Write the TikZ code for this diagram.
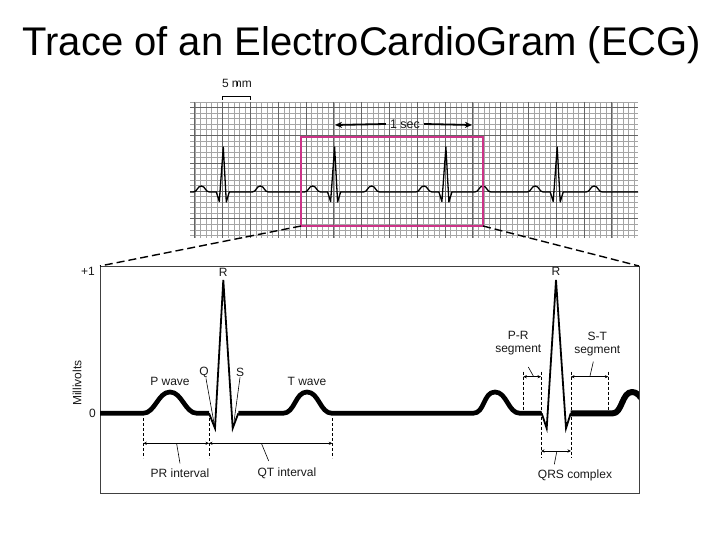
\documentclass[tikz,border=0pt]{standalone}
\usepackage{fontspec}
\setmainfont{Liberation Sans}
\usepackage{xcolor}
\usepackage{tikz}
\usetikzlibrary{arrows.meta}
\definecolor{gridmin}{RGB}{165,165,165}
\definecolor{gridmaj}{RGB}{100,100,100}
\definecolor{zoomclr}{RGB}{204,51,136}
\definecolor{txtclr}{RGB}{25,25,25}
\tikzset{
    lbl/.style={font=\fontsize{12}{13.5}\selectfont,text=txtclr,inner sep=1pt},
    minline/.style={draw=gridmin,line width=0.6pt},
    majline/.style={draw=gridmaj,line width=0.9pt},
    strip/.style={line width=1.3pt,line join=round},
    bigtrace/.style={line width=4.7pt,line cap=butt,line join=round},
    qrsline/.style={line width=1.8pt,line join=miter},
    guide/.style={dash pattern=on 3pt off 2pt,line width=0.7pt},
    spanarr/.style={{Stealth[length=3.5pt,width=3.2pt]}-{Stealth[length=3.5pt,width=3.2pt]},line width=0.8pt},
    lead/.style={line width=0.6pt},
    secarr/.style={-{Stealth[length=7pt,width=6pt]},line width=1.8pt},
    zoombox/.style={draw=zoomclr,line width=2pt,outer sep=0pt,inner sep=0pt},
    zoomline/.style={dash pattern=on 8pt off 4pt,line width=1.4pt},
}
\begin{document}
\begin{tikzpicture}[x=1pt,y=-1pt]
\useasboundingbox (0,0) rectangle (720,540);

\node[font=\fontsize{40}{42}\selectfont,anchor=base] (title) at (362,56)
    {Trace of an ElectroCardioGram (ECG)};

% strip of chart paper
\begin{scope}
\clip (190,102) rectangle (638,238);
\foreach \i in {0,...,81} \draw[minline] ({189.34+5.56*\i},102) -- ++(0,136);
\foreach \j in {0,...,24} \draw[minline] (190,{102+5.56*\j}) -- ++(448,0);
\foreach \i in {0,...,16} \draw[majline] ({194.9+27.8*\i},102) -- ++(0,136);
\foreach \j in {0,...,4} \draw[majline] (190,{107.56+27.8*\j}) -- ++(448,0);
\end{scope}
\draw[strip] (190,192)
  \foreach \r in {223.3,334.6,445.9,557.2}{
    -- ({\r-30},192) .. controls ({\r-26},192) and ({\r-26},186) .. ({\r-22},186)
       .. controls ({\r-18},186) and ({\r-18},192) .. ({\r-14},192)
    -- ({\r-7},192) -- ({\r-4},201.5) -- (\r,147) -- ({\r+3},202) -- ({\r+6},192)
    -- ({\r+29},192) .. controls ({\r+33},192) and ({\r+33},186) .. ({\r+37},186)
       .. controls ({\r+41},186) and ({\r+41},192) .. ({\r+45},192)
  } -- (638,192);

\node[lbl] (fivemm) at (237,83) {5 mm};
\coordinate (mmL) at (222.7,100);
\coordinate (mmR) at (250,100);
\draw[lead] (mmL) -- ++(0,-4) -| (mmR);
\draw[lead] (fivemm.south) ++(0,-2) -- ++(0,-4);

\node[lbl,font=\fontsize{12.5}{13}\selectfont,inner sep=4pt] (onesec) at (405,124) {1 sec};
\coordinate (secL) at (335,125);
\coordinate (secR) at (472,125);
\draw[secarr] (onesec.west) -- (secL);
\draw[secarr] (onesec.east) -- (secR);

\node[zoombox,minimum width=182pt,minimum height=89pt] (zbox) at (392,181.5) {};
\node[draw=black!75,line width=1pt,outer sep=0pt,minimum width=539pt,minimum height=227pt] (panel) at (369.5,379.5) {};
\draw[zoomline] (zbox.south west) -- (panel.north west);
\draw[zoomline] (zbox.south east) -- (panel.north east);

% enlarged trace
\begin{scope}
\clip (100,266) rectangle (639,493);
\draw[bigtrace] (100,413.3) -- (143,413.3)
   .. controls (155,413.3) and (158,392) .. (170,392)
   .. controls (182,392) and (185,413.3) .. (197,413.3) -- (209,413.3);
\draw[qrsline] (209,413.3) -- (215,428.3) -- (223.3,280) -- (232.7,428.3) -- (238.3,413.3);
\draw[bigtrace] (238.3,413.3) -- (283,413.3)
   .. controls (295,413.3) and (295,392) .. (307,392)
   .. controls (319,392) and (320,413.3) .. (332,413.3) -- (473,413.3)
   .. controls (485,413.3) and (483,392) .. (495,392)
   .. controls (507,392) and (508,413.3) .. (520,413.3) -- (541.7,413.3);
\draw[qrsline] (541.7,413.3) -- (546.7,428.3) -- (556,280) -- (566,428.3) -- (570.7,413.3);
\draw[bigtrace,line width=6pt] (570.7,413.3) -- (613,413.3)
   .. controls (622,413.3) and (622,392) .. (632,392)
   .. controls (637,392) and (640,396) .. (644,402);
\end{scope}

\node[lbl,anchor=east] (plusone) at (96,271) {+1};
\node[lbl,anchor=east] (zero) at (97,413) {0};
\node[lbl,rotate=90] (mv) at (77,383) {Millivolts};

\node[lbl] (rA) at (223.3,272) {R};
\node[lbl] (rB) at (556,271) {R};
\node[lbl] (pwave) at (170,381) {P wave};
\node[lbl] (twave) at (307,381) {T wave};
\node[lbl] (qlab) at (204,372) {Q};
\node[lbl] (slab) at (240,372) {S};
\coordinate (qtip) at (214,423);
\coordinate (stip) at (234,421.7);
\draw[lead] ([xshift=2pt]qlab.south) -- (qtip);
\draw[lead] (slab.south) -- (stip);

% intervals of the first beat
\coordinate (pA) at (143.3,418.3);
\coordinate (qA) at (209,418.3);
\coordinate (tA) at (332.3,418.3);
\foreach \c in {pA,qA,tA} \draw[guide] (\c) -- ++(0,40);
\draw[spanarr] (143.3,443.3) -- (209,443.3);
\draw[spanarr] (209,443.3) -- (332.3,443.3);
\node[lbl] (print) at (180,473) {PR interval};
\node[lbl] (qtint) at (287,473) {QT interval};
\coordinate (prmid) at (176.7,444);
\coordinate (qtmid) at (261.7,444);
\coordinate (qtfoot) at (268.7,461);
\draw[lead] (prmid) -- ([yshift=4pt]print.north);
\draw[lead] (qtmid) -- (qtfoot);

% segments of the second beat
\coordinate (pB) at (523.3,371.7);
\coordinate (qB) at (541,371.7);
\coordinate (sB) at (571,371.7);
\coordinate (tB) at (608.3,371.7);
\draw[guide] (pB) -- ++(0,40);
\draw[guide] (tB) -- ++(0,40);
\draw[guide] (qB) -- ++(0,86.6);
\draw[guide] (sB) -- ++(0,86.6);
\draw[spanarr] (523.3,376.7) -- (541,376.7);
\draw[spanarr] (571,376.7) -- (608.3,376.7);
\draw[spanarr] (541,451) -- (571,451);
\node[lbl,align=center] (prseg) at (518.3,343) {P-R\\segment};
\node[lbl,align=center] (stseg) at (597.3,344) {S-T\\segment};
\node[lbl] (qrs) at (575,475) {QRS complex};
\coordinate (prsegtop) at (528.3,367);
\coordinate (prsegmid) at (533.3,376);
\coordinate (stsegtop) at (593.3,361.7);
\coordinate (stsegmid) at (590,376);
\coordinate (qrsmid) at (556.7,452);
\coordinate (qrsfoot) at (554.3,464.3);
\draw[lead] (prsegtop) -- (prsegmid);
\draw[lead] (stsegtop) -- (stsegmid);
\draw[lead] (qrsmid) -- (qrsfoot);
\end{tikzpicture}
\end{document}
